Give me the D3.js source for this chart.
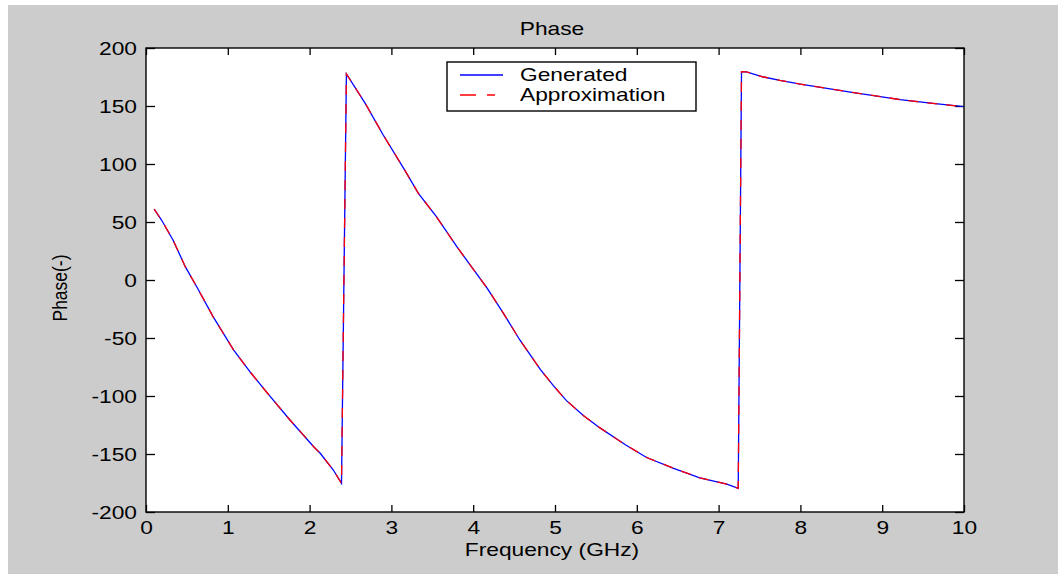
<!DOCTYPE html>
<html>
<head>
<meta charset="utf-8">
<script src="https://cdn.jsdelivr.net/npm/d3@7/dist/d3.min.js"></script>
<style>
  html, body { margin: 0; padding: 0; background: #ffffff; }
  svg { display: block; }
  text { font-family: "Liberation Sans", Arial, Helvetica, sans-serif; fill: #000; }
</style>
</head>
<body>
<svg id="chart" width="1058" height="574"></svg>
<script>
// Frequency samples (GHz)
const freq = [0.1, 0.19, 0.33, 0.48, 0.62, 0.82, 1.07, 1.27, 1.52, 1.76, 2.05, 2.13, 2.29, 2.39,
  2.45, 2.68, 2.9, 3.15, 3.33, 3.55, 3.8, 4.17, 4.37, 4.57, 4.82, 4.98, 5.14, 5.35, 5.55, 5.86,
  6.12, 6.45, 6.77, 7.1, 7.24,
  7.28, 7.34, 7.55, 7.75, 8.0, 8.61, 9.22, 9.62, 10.0];

// Generated phase (degrees)
const generatedPhase = [61, 51.7, 34.5, 11.5, -5.8, -31.6, -60.3, -79, -100.6, -120.7, -143.7, -149.4, -163.8, -175.3,
  177.6, 152.3, 125, 96.3, 74.7, 54.6, 28.7, -7, -28.7, -51.7, -77, -91, -104, -117, -127.5, -142,
  -153, -162.3, -170.5, -176, -179.6,
  179.6, 179.4, 175, 172, 168.8, 162, 155.5, 152.2, 149.4];

// Approximated phase (degrees)
const approxPhase = [61, 51.7, 34.5, 11.5, -5.8, -31.6, -60.3, -79, -100.6, -120.7, -143.7, -149.4, -163.8, -175.3,
  177.6, 152.3, 125, 96.3, 74.7, 54.6, 28.7, -7, -28.7, -51.7, -77, -91, -104, -117, -127.5, -142,
  -153, -162.3, -170.5, -176, -179.6,
  179.6, 179.4, 175, 172, 168.8, 162, 155.5, 152.2, 149.4];

const xTicks = [0, 1, 2, 3, 4, 5, 6, 7, 8, 9, 10];
const xTickLabels = ["0", "1", "2", "3", "4", "5", "6", "7", "8", "9", "10"];
const yTicks = [-200, -150, -100, -50, 0, 50, 100, 150, 200];
const yTickLabels = ["-200", "-150", "-100", "-50", "0", "50", "100", "150", "200"];

const seriesNames = ["Generated", "Approximation"];
const titleText = "Phase";
const xLabelText = "Frequency (GHz)";
const yLabelText = "Phase(-)";

// Layout
const plot = { left: 146, top: 48, right: 964, bottom: 512 };
const fontSize = 17.5;
const stretch = 1.3;     // horizontal stretch of the glyphs

const svg = d3.select("#chart");

// Figure background
svg.append("rect")
  .attr("x", 8).attr("y", 5)
  .attr("width", 1058 - 8).attr("height", 574 - 5)
  .attr("fill", "#cccccc");

// Axes background
svg.append("rect")
  .attr("x", plot.left).attr("y", plot.top)
  .attr("width", plot.right - plot.left).attr("height", plot.bottom - plot.top)
  .attr("fill", "#ffffff");

const x = d3.scaleLinear().domain([0, 10]).range([plot.left, plot.right]);
const y = d3.scaleLinear().domain([-200, 200]).range([plot.bottom, plot.top]);

const axisStyle = g => {
  g.select(".domain").remove();
  g.selectAll(".tick line").attr("stroke", "#000").attr("stroke-width", 1.3);
};

// Bottom axis with labels
const gx = svg.append("g")
  .attr("transform", `translate(0,${plot.bottom})`)
  .call(d3.axisBottom(x).tickValues(xTicks).tickSizeInner(-7).tickSizeOuter(0)
    .tickFormat((d, i) => xTickLabels[i]));
axisStyle(gx);
gx.selectAll(".tick text")
  .attr("y", 0).attr("dy", null).attr("x", 0)
  .attr("transform", `translate(0,22) scale(${stretch},1)`)
  .attr("font-size", fontSize)
  .attr("font-family", "Liberation Sans, Arial, sans-serif")
  .attr("fill", "#000");

// Top axis (ticks only)
const gxt = svg.append("g")
  .attr("transform", `translate(0,${plot.top})`)
  .call(d3.axisTop(x).tickValues(xTicks).tickSizeInner(-7).tickSizeOuter(0).tickFormat(""));
axisStyle(gxt);

// Left axis with labels
const gy = svg.append("g")
  .attr("transform", `translate(${plot.left},0)`)
  .call(d3.axisLeft(y).tickValues(yTicks).tickSizeInner(-9).tickSizeOuter(0)
    .tickFormat((d, i) => yTickLabels[i]));
axisStyle(gy);
gy.selectAll(".tick text")
  .attr("x", 0).attr("y", 0).attr("dy", null)
  .attr("text-anchor", "end")
  .attr("transform", `translate(-9,6.3) scale(${stretch},1)`)
  .attr("font-size", fontSize)
  .attr("font-family", "Liberation Sans, Arial, sans-serif")
  .attr("fill", "#000");

// Right axis (ticks only)
const gyr = svg.append("g")
  .attr("transform", `translate(${plot.right},0)`)
  .call(d3.axisRight(y).tickValues(yTicks).tickSizeInner(-9).tickSizeOuter(0).tickFormat(""));
axisStyle(gyr);

// Series lines
const line = d3.line().x((d, i) => x(freq[i])).y(d => y(d));

svg.append("path")
  .datum(generatedPhase)
  .attr("d", line)
  .attr("fill", "none")
  .attr("stroke", "#0000ff")
  .attr("stroke-width", 1.3);

svg.append("path")
  .datum(approxPhase)
  .attr("d", line)
  .attr("fill", "none")
  .attr("stroke", "#ff0000")
  .attr("stroke-width", 1.3)
  .attr("stroke-dasharray", "10,9");

// Axes box
svg.append("rect")
  .attr("x", plot.left).attr("y", plot.top)
  .attr("width", plot.right - plot.left).attr("height", plot.bottom - plot.top)
  .attr("fill", "none")
  .attr("stroke", "#000")
  .attr("stroke-width", 1.4);

// Stretched text helper
function label(txt, px, py, anchor, extra) {
  return svg.append("text")
    .attr("transform", `translate(${px},${py}) ${extra || ""} scale(${stretch},1)`)
    .attr("text-anchor", anchor)
    .attr("font-size", fontSize)
    .text(txt);
}

// Title and axis labels
const cx = (plot.left + plot.right) / 2 - 3;
label(titleText, cx, 35, "middle");
label(xLabelText, cx, 556, "middle");
svg.append("text")
  .attr("transform", `translate(67,288) scale(1.2,1) rotate(-90)`)
  .attr("text-anchor", "middle")
  .attr("font-size", fontSize)
  .text(yLabelText);

// Legend
const legend = { left: 447, top: 62, right: 696, bottom: 111 };
svg.append("rect")
  .attr("x", legend.left).attr("y", legend.top)
  .attr("width", legend.right - legend.left).attr("height", legend.bottom - legend.top)
  .attr("fill", "#ffffff")
  .attr("stroke", "#000")
  .attr("stroke-width", 1.4);

const legendRows = [
  { name: seriesNames[0], color: "#0000ff", dash: null, y: 75 },
  { name: seriesNames[1], color: "#ff0000", dash: "16,11,8,20", y: 95 }
];
legendRows.forEach(r => {
  svg.append("line")
    .attr("x1", 460).attr("x2", 503)
    .attr("y1", r.y).attr("y2", r.y)
    .attr("stroke", r.color)
    .attr("stroke-width", 1.3)
    .attr("stroke-dasharray", r.dash);
  label(r.name, 520, r.y + 6.2, "start");
});
</script>
</body>
</html>
